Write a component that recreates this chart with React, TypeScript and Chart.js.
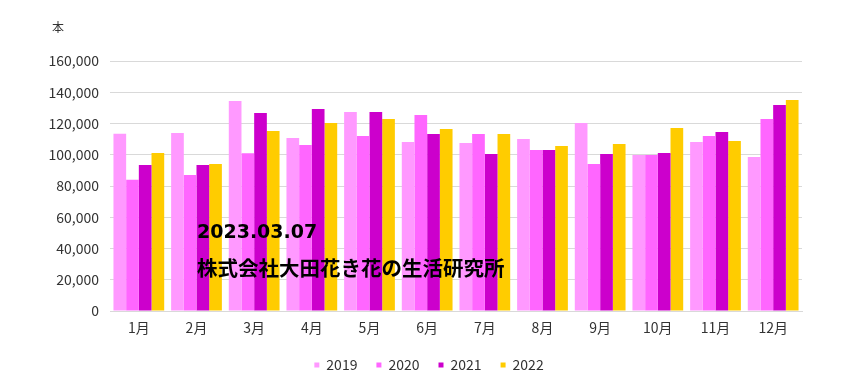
import React, { useEffect, useRef } from "react";
import { Chart, registerables } from "chart.js";

Chart.register(...registerables);

const categories = ["1月", "2月", "3月", "4月", "5月", "6月", "7月", "8月", "9月", "10月", "11月", "12月"];
const seriesNames = ["2019", "2020", "2021", "2022"];
const values2019 = [113500, 113900, 134400, 110700, 127400, 108200, 107500, 110100, 120300, 99800, 108200, 98600];
const values2020 = [84000, 87000, 101000, 106200, 112000, 125400, 113300, 103000, 94100, 99800, 112000, 122900];
const values2021 = [93400, 93500, 126700, 129300, 127400, 113300, 100500, 103000, 100500, 101100, 114600, 131800];
const values2022 = [101100, 94100, 115200, 120300, 122900, 116500, 113300, 105600, 106900, 117100, 108800, 135000];
const colors = ["#FF99FF", "#FF66FF", "#CC00CC", "#FFCC00"];
const unitLabel = "本";
const noteDate = "2023.03.07";
const noteOrg = "株式会社大田花き花の生活研究所";

const FONT = "'Noto Sans CJK JP', 'Noto Sans', sans-serif";

export default function App() {
  const ref = useRef<HTMLCanvasElement | null>(null);

  useEffect(() => {
    if (!ref.current) return;
    const all = [values2019, values2020, values2021, values2022];
    const chart = new Chart(ref.current, {
      type: "bar",
      data: {
        labels: categories,
        datasets: all.map((d, i) => ({
          label: seriesNames[i],
          data: d,
          backgroundColor: colors[i],
          borderWidth: 0,
          barPercentage: 1.0,
          categoryPercentage: 0.88,
        })),
      },
      options: {
        animation: false,
        responsive: false,
        maintainAspectRatio: false,
        layout: { padding: { top: 61, right: 0, bottom: 4, left: 0 } },
        plugins: {
          legend: {
            position: "bottom",
            labels: {
              boxWidth: 5,
              boxHeight: 5,
              padding: 19,
              color: "#333",
              font: { family: FONT, size: 14 },
            },
          },
          title: { display: false },
          tooltip: { enabled: false },
        },
        scales: {
          x: {
            afterFit: (s: any) => {
              s.height = 28;
            },
            grid: { display: false },
            border: { display: true, color: "#d9d9d9" },
            ticks: { color: "#333", font: { family: FONT, size: 14 }, padding: 0 },
          },
          y: {
            min: 0,
            max: 160000,
            afterFit: (s: any) => {
              s.width = 110;
            },
            grid: { color: "#d9d9d9", drawTicks: false },
            border: { display: false },
            ticks: {
              stepSize: 20000,
              color: "#333",
              padding: 11,
              font: { family: FONT, size: 14 },
              callback: (v: any) => Number(v).toLocaleString("en-US"),
            },
          },
          yRight: {
            position: "right",
            display: true,
            afterFit: (s: any) => {
              s.width = 56;
            },
            grid: { display: false },
            border: { display: false },
            ticks: { display: false },
          },
        },
      },
    });
    return () => chart.destroy();
  }, []);

  return (
    <div style={{ position: "fixed", left: 0, top: 0, width: 858, height: 386, background: "#fff" }}>
      <canvas ref={ref} width={858} height={386} style={{ display: "block" }} />
      <div style={{ position: "absolute", left: 52, top: 18, fontFamily: FONT, fontSize: 12, color: "#333" }}>{unitLabel}</div>
      <div style={{ position: "absolute", left: 197, top: 218, fontFamily: "'DejaVu Sans', sans-serif", fontSize: 19, fontWeight: 700, color: "#000", lineHeight: "26px" }}>{noteDate}</div>
      <div style={{ position: "absolute", left: 197, top: 253, fontFamily: FONT, fontSize: 20.5, fontWeight: 700, color: "#000", lineHeight: "28px", whiteSpace: "nowrap" }}>{noteOrg}</div>
    </div>
  );
}
